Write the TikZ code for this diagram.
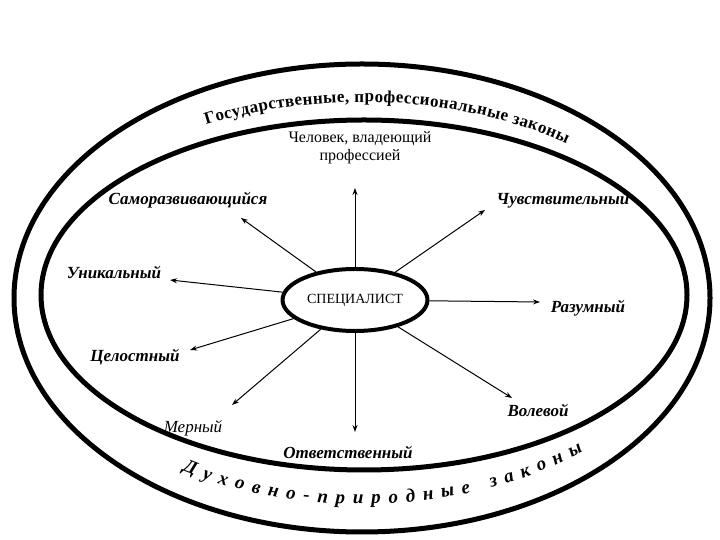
\documentclass[tikz,border=0pt]{standalone}
\usepackage{fontspec}
\setmainfont{Liberation Serif}
\newfontfamily\tnr{Liberation Serif}
\usetikzlibrary{decorations.text,arrows.meta,shapes.geometric}
\begin{document}
\begin{tikzpicture}[x=1pt,y=1pt,
  lbl/.style={font=\tnr\fontsize{17}{19}\selectfont\itshape\bfseries, inner sep=1pt},
  ring/.style={draw, line width=5pt},
  arr/.style={-{Stealth[length=7pt,width=5pt]}, line width=1pt}]
\useasboundingbox (0,0) rectangle (720,540);
\node[ring, ellipse, minimum width=696, minimum height=468] (outer) at (362,242) {};
\node[ring, ellipse, minimum width=646, minimum height=350] (inner) at (364,245) {};
\node[ring, ellipse, line width=4pt, minimum width=140, minimum height=62, font=\tnr\fontsize{14}{16}\selectfont] (c) at (355,240) {СПЕЦИАЛИСТ};
\path[decorate, decoration={text along path, text align=fit to path,
  text={|\tnr\fontsize{17}{19}\selectfont\bfseries|Государственные, профессиональные законы}}]
  (362,242) ++(118:332 and 196) arc[start angle=118, end angle=52, x radius=332, y radius=196];
\path[decorate, decoration={text along path, text align=fit to path,
  text={|\tnr\fontsize{19}{21}\selectfont\bfseries\itshape|Д у х о в н о - п р и р о д н ы е \ \ з а к о н ы}}]
  (362,242) ++(237:330 and 206) arc[start angle=237, end angle=312, x radius=330, y radius=206];
\node[font=\tnr\fontsize{16}{18}\selectfont, align=center] (p) at (360,392) {Человек, владеющий\\профессией};
\node[lbl] (s) at (188,340) {Саморазвивающийся};
\node[lbl] (ch) at (563,340) {Чувствительный};
\node[lbl] (u) at (114,268) {Уникальный};
\node[lbl] (r) at (588,232) {Разумный};
\node[lbl] (ts) at (135,183) {Целостный};
\node[lbl] (v) at (538,130) {Волевой};
\node[lbl,font=\tnr\fontsize{17}{19}\selectfont\itshape] (m) at (193,112) {Мерный};
\node[lbl] (o) at (348,88) {Ответственный};
\draw[arr] (c) -- (355,352);
\draw[arr] (c) -- (241,322);
\draw[arr] (c) -- (485,330);
\draw[arr] (c) -- (170,260);
\draw[arr] (c) -- (540,238);
\draw[arr] (c) -- (190,190);
\draw[arr] (c) -- (512,142);
\draw[arr] (c) -- (232,135);
\draw[arr] (c) -- (355,108);
\end{tikzpicture}
\end{document}
